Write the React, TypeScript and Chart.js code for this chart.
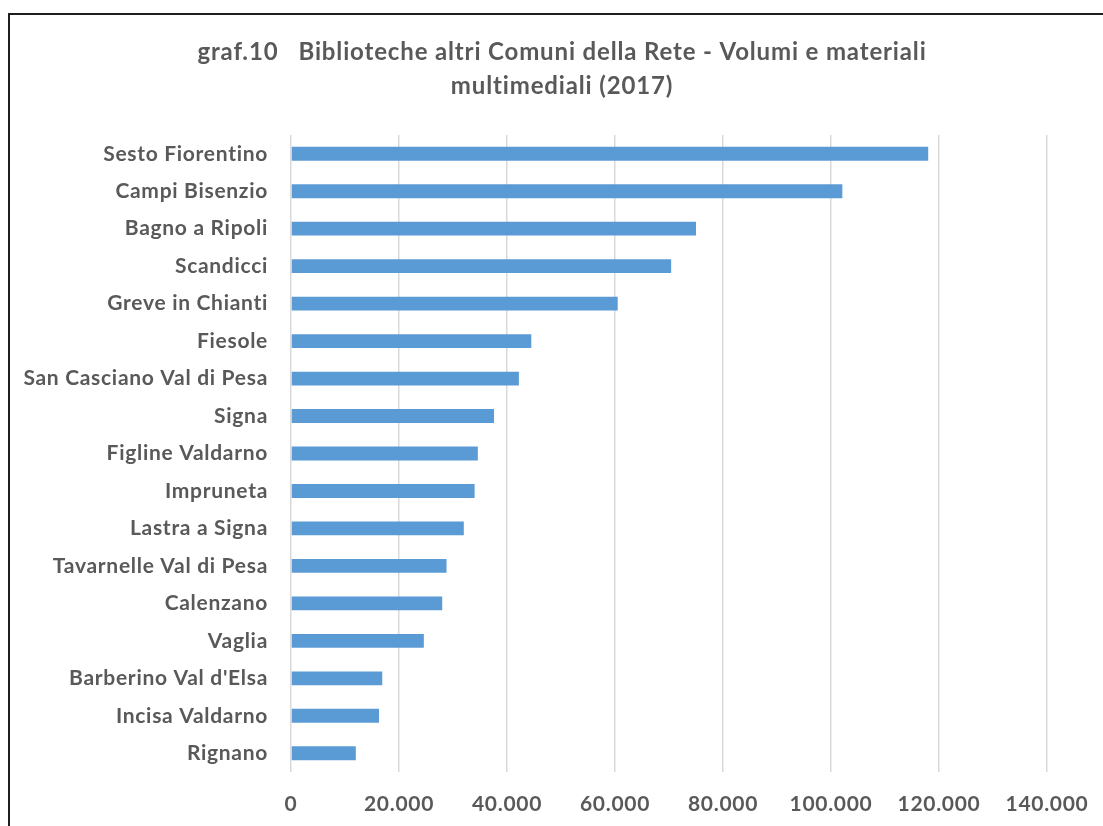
import React, { useEffect, useRef } from "react";
import { Chart, registerables } from "chart.js";

Chart.register(...registerables);

const categories: string[] = [
  "Sesto Fiorentino",
  "Campi Bisenzio",
  "Bagno a Ripoli",
  "Scandicci",
  "Greve in Chianti",
  "Fiesole",
  "San Casciano Val di Pesa",
  "Signa",
  "Figline Valdarno",
  "Impruneta",
  "Lastra a Signa",
  "Tavarnelle Val di Pesa",
  "Calenzano",
  "Vaglia",
  "Barberino Val d'Elsa",
  "Incisa Valdarno",
  "Rignano",
];

const volumes: number[] = [
  118000, 102100, 75000, 70400, 60500, 44500, 42200, 37600, 34600, 34000,
  32000, 28800, 28000, 24600, 16900, 16300, 12000,
];

const titleLines: string[] = [
  "graf.10   Biblioteche altri Comuni della Rete - Volumi e materiali",
  "multimediali (2017)",
];

const xMin = 0;
const xMax = 140000;
const xStep = 20000;

const TEXT = "#595959";
const FONT = "Lato";

function fmt(v: number): string {
  return String(Math.round(v)).replace(/\B(?=(\d{3})+(?!\d))/g, ".");
}

const spacingPlugin = {
  id: "spacing",
  beforeLayout(chart: any) {
    (chart.ctx as any).letterSpacing = "0.7px";
  },
  beforeDraw(chart: any) {
    (chart.ctx as any).letterSpacing = "0.7px";
  },
};

const titleFramePlugin = {
  id: "titleFrame",
  afterDraw(chart: any) {
    const ctx = chart.ctx;
    ctx.save();
    (ctx as any).letterSpacing = "0.85px";
    ctx.fillStyle = TEXT;
    ctx.font = `bold 24px ${FONT}`;
    ctx.textAlign = "center";
    ctx.textBaseline = "middle";
    const cx = 562;
    titleLines.forEach((line, i) => {
      ctx.fillText(line, cx, 52 + i * 34);
    });
    ctx.fillStyle = "#1e1e1e";
    ctx.fillRect(8, 13, 2, chart.height - 13);
    ctx.fillRect(8, 13, chart.width - 8, 2);
    ctx.restore();
  },
};

export default function App() {
  const ref = useRef<HTMLCanvasElement | null>(null);

  useEffect(() => {
    if (!ref.current) return;
    const chart = new Chart(ref.current, {
      type: "bar",
      data: {
        labels: categories,
        datasets: [
          {
            data: volumes,
            backgroundColor: "#5B9BD5",
            borderWidth: 0,
            barPercentage: 0.37,
            categoryPercentage: 1,
          },
        ],
      },
      options: {
        indexAxis: "y",
        animation: false,
        responsive: false,
        layout: { padding: { left: 0, right: 56, top: 135, bottom: 0 } },
        plugins: {
          legend: { display: false },
          tooltip: { enabled: false },
          title: { display: false },
        },
        scales: {
          x: {
            min: xMin,
            max: xMax,
            grid: { color: "#D9D9D9", lineWidth: 1.5, drawTicks: false },
            border: { display: false },
            ticks: {
              stepSize: xStep,
              color: TEXT,
              padding: 20,
              font: { family: FONT, size: 21, weight: "bold" },
              callback: (v: any) => fmt(Number(v)),
            },
            afterFit: (scale: any) => {
              scale.height = 54;
              scale.paddingLeft = 0;
              scale.paddingRight = 0;
            },
          },
          y: {
            grid: { display: false, drawTicks: false },
            border: { display: false },
            ticks: {
              color: TEXT,
              padding: 23,
              font: { family: FONT, size: 21, weight: "bold" },
            },
            afterFit: (scale: any) => {
              scale.width = 291;
            },
          },
        },
      },
      plugins: [spacingPlugin, titleFramePlugin],
    });
    return () => chart.destroy();
  }, []);

  return (
    <div style={{ position: "absolute", left: 0, top: 0, width: 1103, height: 826, background: "#fff" }}>
      <canvas ref={ref} width={1103} height={826} />
    </div>
  );
}
